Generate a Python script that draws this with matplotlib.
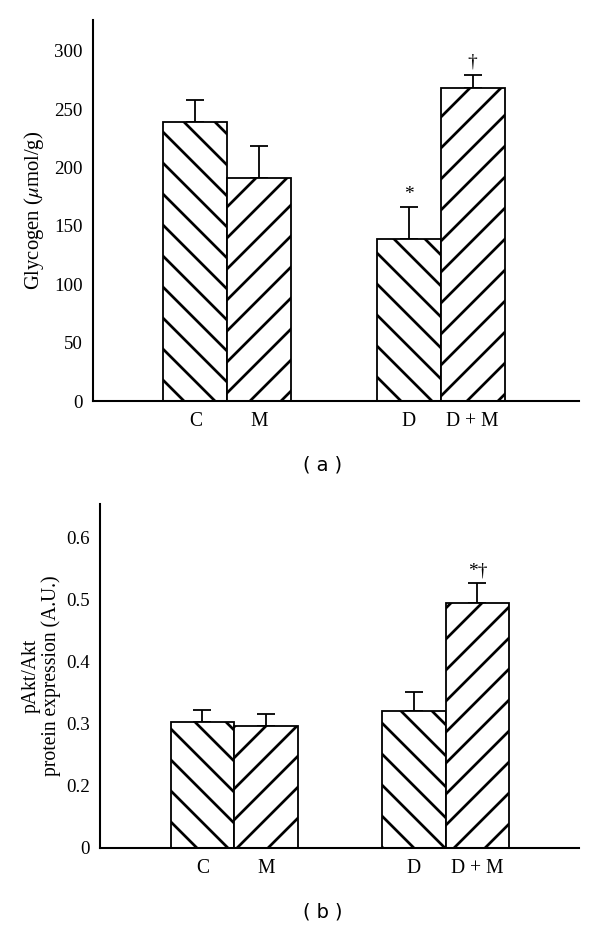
import matplotlib
matplotlib.use("Agg")
import matplotlib.pyplot as plt

# ---- data ----
groups = ["C", "M", "D", "D + M"]
positions = [0, 1, 3.33, 4.33]
hatches = ["\\\\", "//", "\\\\", "//"]

glycogen = [239, 191.5, 138.5, 268.5]
glycogen_err = [19, 27, 28, 11]
glycogen_marks = ["", "", "*", "\u2020"]

pakt = [0.303, 0.296, 0.320, 0.495]
pakt_err = [0.018, 0.019, 0.031, 0.031]
pakt_marks = ["", "", "", "*\u2020"]

yticks_a = [0, 50, 100, 150, 200, 250, 300]
yticks_b = [0.1, 0.2, 0.3, 0.4, 0.5, 0.6]
yticklabels_b = ["0", "0.2", "0.3", "0.4", "0.5", "0.6"]

DPI = 186
plt.rcParams["hatch.linewidth"] = 1.05
plt.rcParams["mathtext.fontset"] = "stix"
plt.rcParams["font.family"] = ["Liberation Serif", "DejaVu Serif"]

fig = plt.figure(figsize=(600 / DPI, 928 / DPI), dpi=DPI)

ax_a = fig.add_axes([93 / 600, 1 - 401 / 928, (579 - 93) / 600, (401 - 20) / 928])
ax_b = fig.add_axes([100 / 600, 1 - 847.5 / 928, (579 - 100) / 600, (847.5 - 504) / 928])


def draw(ax, vals, errs, marks, xlim, ylim):
    for x, v, e, h in zip(positions, vals, errs, hatches):
        ax.bar(x, v, width=1.0, facecolor="white", edgecolor="black",
               linewidth=0.7, hatch=h, zorder=2)
        ax.errorbar(x, v, yerr=[[0], [e]], fmt="none", ecolor="black",
                    elinewidth=0.7, capsize=3.5, capthick=0.7, zorder=1)
    for x, v, e, m in zip(positions, vals, errs, marks):
        if m:
            ax.annotate(m, (x, v + e), xytext=(0, 1.5), textcoords="offset points",
                        ha="center", va="bottom", fontsize=7.5)
    ax.set_xlim(*xlim)
    ax.set_ylim(*ylim)
    ax.set_xticks(positions)
    ax.set_xticklabels(groups, fontsize=7.6)
    for s in ["top", "right"]:
        ax.spines[s].set_visible(False)
    for s in ["left", "bottom"]:
        ax.spines[s].set_linewidth(0.8)
    ax.tick_params(axis="both", length=0)
    ax.tick_params(axis="y", labelsize=7.3, pad=4.0)
    ax.tick_params(axis="x", pad=4.4)


draw(ax_a, glycogen, glycogen_err, glycogen_marks, (-1.6, 5.99), (0, 326.5))
ax_a.set_yticks(yticks_a)
ax_a.set_ylabel(r"Glycogen ($\mu$mol/g)", fontsize=8.0, labelpad=3)

draw(ax_b, pakt, pakt_err, pakt_marks, (-1.61, 5.93), (0.1, 0.654))
ax_b.set_yticks(yticks_b)
ax_b.set_yticklabels(yticklabels_b)
ax_b.set_ylabel("pAkt/Akt\nprotein expression (A.U.)", fontsize=7.6, labelpad=2,
                linespacing=1.05)

fig.text(323 / 600, 1 - 465 / 928, "( a )", ha="center", va="center",
         fontsize=7.5, family="DejaVu Sans")
fig.text(323 / 600, 1 - 912 / 928, "( b )", ha="center", va="center",
         fontsize=7.5, family="DejaVu Sans")

fig.savefig("out.png", dpi=DPI, facecolor="white")
